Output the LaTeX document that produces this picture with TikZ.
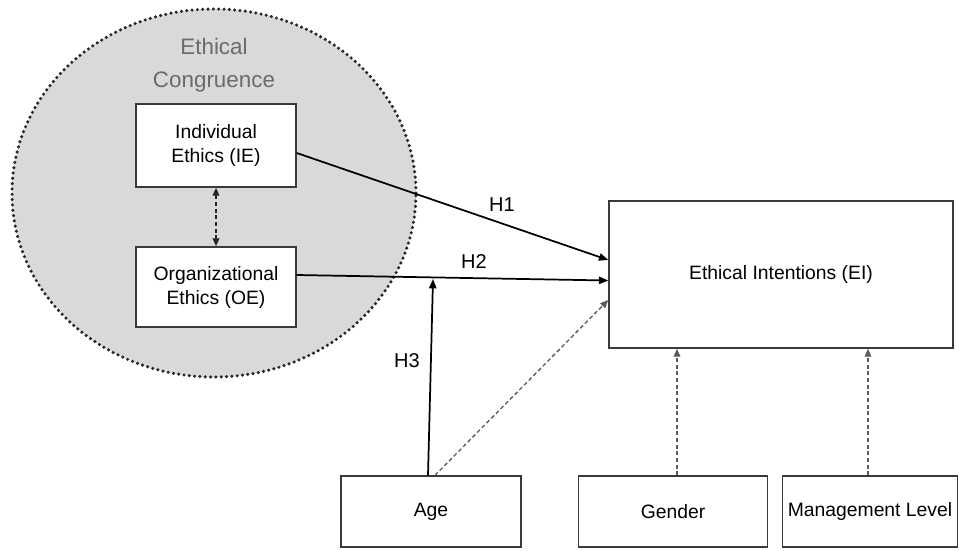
\documentclass[tikz,border=0pt]{standalone}
\usepackage{fontspec}
\setmainfont{Liberation Sans}
\usepackage{tikz}
\usetikzlibrary{positioning,arrows.meta,calc,shapes.geometric}
\definecolor{cCong}{HTML}{D9D9D9}
\definecolor{cDots}{HTML}{262626}
\definecolor{cTitle}{HTML}{6B6B6B}
\definecolor{cEdge}{HTML}{3A3A3A}
\definecolor{cDash}{HTML}{5A5A5A}
\tikzset{
  blk/.style={draw=cEdge, line width=1.1pt, fill=white, align=center,
              inner sep=2pt, font=\fontsize{14.5}{18}\selectfont},
  congr/.style={ellipse, fill=cCong, draw=cDots, line width=2.6pt,
                dash pattern=on 0pt off 4pt, line cap=round,
                minimum width=303pt, minimum height=276pt, inner sep=0pt},
  ar/.style={-{Triangle[length=7pt, width=5.5pt]}, line width=1.3pt},
  ard/.style={-{Triangle[length=6pt, width=5pt]}, line width=1pt, cDash,
              dash pattern=on 3pt off 2pt},
  arb/.style={{Triangle[length=6pt, width=5pt]}-{Triangle[length=6pt, width=5pt]},
              line width=1.3pt, cDots, dash pattern=on 3pt off 2pt},
  lbl/.style={font=\fontsize{15}{18}\selectfont, inner sep=1pt},
}

\begin{document}
\begin{tikzpicture}[x=0.75pt, y=-0.75pt]
    \useasboundingbox (0,0) rectangle (959,550);

    % ethical congruence group
    \node[congr] (cong) at (214,193) {};
    \node[align=center, text=cTitle, font=\fontsize{16.8}{24.75}\selectfont]
      (title) at (214,65) {Ethical\\Congruence};
    \node[blk, minimum width=120pt, minimum height=62.25pt] (ie) at (216,145.5) {Individual\\Ethics (IE)};
    \node[blk, minimum width=120pt, minimum height=60pt]    (oe) at (216,287)   {Organizational\\Ethics (OE)};
    \draw[arb] (ie) -- (oe);

    % outcome and controls
    \node[blk, minimum width=258pt, minimum height=110.25pt] (ei) at (781,274.5) {Ethical Intentions (EI)};
    \node[blk, minimum width=135pt, minimum height=53.25pt]    (age) at (431,511.5) {Age};
    \node[blk, minimum width=141.75pt, minimum height=53.25pt] (gen) at (673,511.5) {Gender};
    \node[blk, minimum width=131.25pt, minimum height=53.25pt] (mgl) at (870,511.5) {Management Level};

    % hypotheses
    \coordinate (h3end) at (433,279);
    \draw[ar] ($(ie.east)+(0,7.5)$) -- ($(ei.west)+(0,-14.5)$);
    \draw[ar] ($(oe.east)+(0,-12)$) -- ($(ei.west)+(0,6)$);
    \draw[ar] ($(age.north)+(-3,0)$) -- (h3end);
    \node[lbl] (lh1) at (502,205) {H1};
    \node[lbl] (lh2) at (474,262) {H2};
    \node[lbl] (lh3) at (407,361) {H3};

    % control paths
    \coordinate (gtop) at ($(gen.north)+(4,0)$);
    \coordinate (mtop) at ($(mgl.north)+(-2,0)$);
    \draw[ard] ($(age.north)+(4,0)$) -- ($(ei.west)+(0,25.5)$);
    \draw[ard] (gtop) -- (gtop |- ei.south);
    \draw[ard] (mtop) -- (mtop |- ei.south);
  \end{tikzpicture}
\end{document}
